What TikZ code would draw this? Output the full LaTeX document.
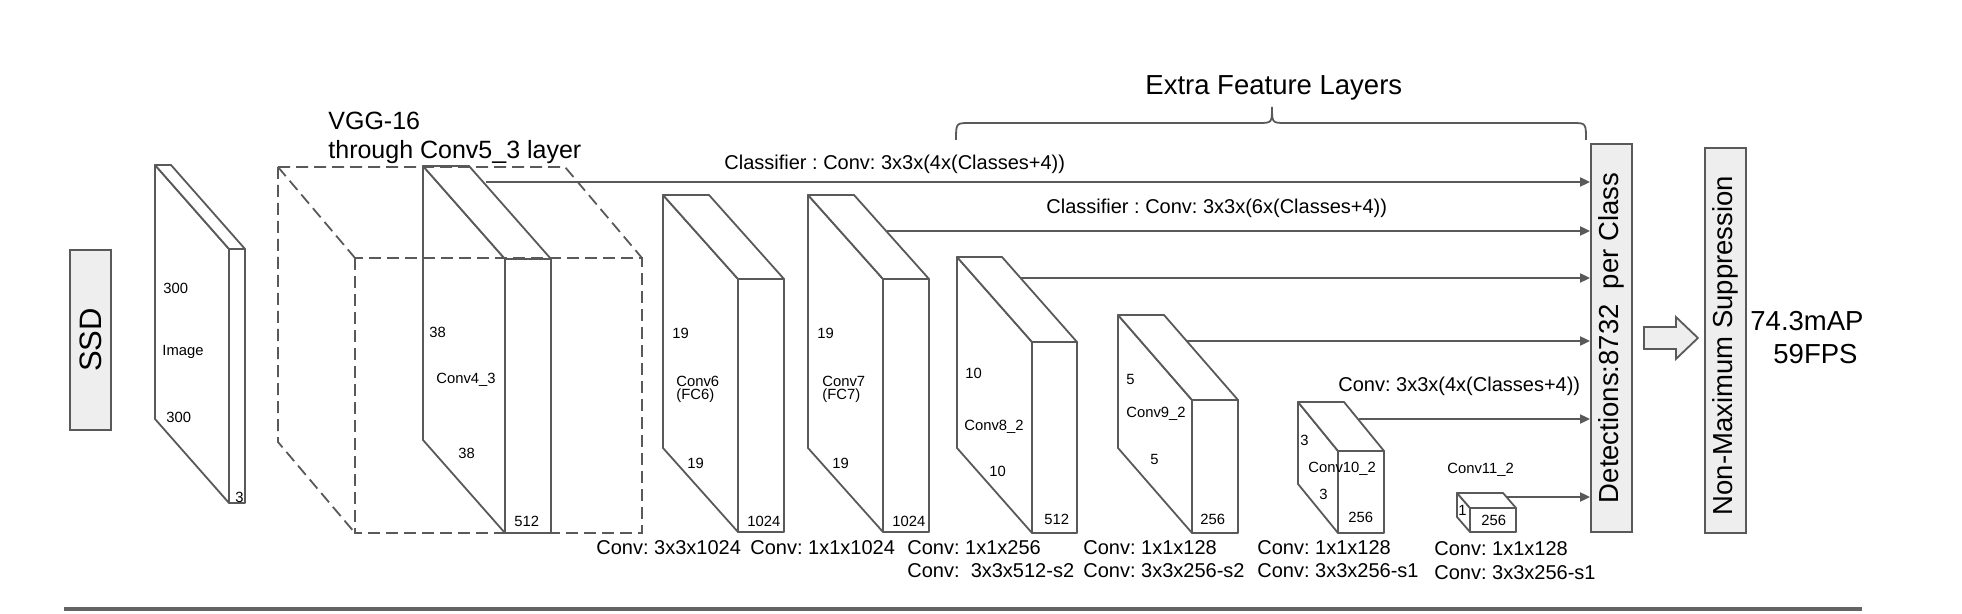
\documentclass[tikz,border=0pt]{standalone}
\usepackage{fontspec}
\setmainfont{Liberation Sans}
\usetikzlibrary{arrows.meta, calc}
\definecolor{edgegray}{HTML}{595959}
\definecolor{boxgray}{HTML}{EEEEEE}
\frenchspacing

\begin{document}
\begin{tikzpicture}[x=0.5pt, y=-0.5pt,
    slab/.style={draw=edgegray, line width=0.9pt, fill=white, line join=round},
    vgg/.style={draw=edgegray, line width=0.9pt, dash pattern=on 6pt off 3pt},
    feed/.style={draw=edgegray, line width=0.9pt, -{Triangle[length=5pt,width=4.5pt]}},
    sidebox/.style={draw=edgegray, line width=0.9pt, fill=boxgray, minimum width=20.5pt, inner sep=0},
    tiny/.style={font=\fontsize{7.4}{8}\selectfont, inner sep=0, anchor=base west},
    mid/.style={font=\fontsize{10}{12}\selectfont, inner sep=0, anchor=base west},
    big/.style={font=\fontsize{13.75}{16}\selectfont, inner sep=0}]

  \useasboundingbox (0,0) rectangle (1962,614);

  % Side boxes:
  \node[sidebox, minimum height=90pt] (ssd) at (90.5,340) {};
  \node[big, rotate=90, font=\fontsize{15.5}{18}\selectfont] (ssdtext) at (ssd) {SSD};
  \node[sidebox, minimum height=194pt] (det) at (1611.5,338) {};
  \node[big, rotate=90] (dettext) at (det) {Detections:8732\ \ per Class};
  \node[sidebox, minimum height=192.5pt] (nms) at (1725.5,340.5) {};
  \node[big, rotate=90] (nmstext) at ($(nms)+(0,5)$) {Non-Maximum Suppression};

  % Feature maps: front x/y/width/height, depth
  \foreach \fx/\fy/\fw/\fh/\dx/\dy in {229/249/16/254/74/84, 505/259/46/274/82/93,
      738/279/46/253/75/84, 883/279/46/253/75/84, 1032/342/45/191/75/85,
      1192/400/46/133/74/85, 1338/451/46/82/40/49, 1470/508/46/24/13/15} {
    \draw[slab] (\fx-\dx,\fy-\dy) -- (\fx,\fy) -- (\fx,\fy+\fh) -- (\fx-\dx,\fy+\fh-\dy) -- cycle;
    \draw[slab] (\fx-\dx,\fy-\dy) -- (\fx-\dx+\fw,\fy-\dy) -- (\fx+\fw,\fy) -- (\fx,\fy) -- cycle;
    \draw[slab] (\fx,\fy) rectangle (\fx+\fw,\fy+\fh);
  }

  % VGG-16 block:
  \draw[vgg] (278,167) -- (565,167) -- (642,258);
  \draw[vgg] (278,167) -- (355,258);
  \draw[vgg] (278,167) -- (278,442) -- (355,533);
  \draw[vgg] (355,258) rectangle (642,533);
  \node[big, anchor=base west, font=\fontsize{12.5}{14}\selectfont] (vggname) at (328,130) {VGG-16};
  \node[big, anchor=base west, font=\fontsize{12.5}{14}\selectfont] (vggdepth) at (328,159) {through Conv5\_3 layer};

  % Sizes on the maps:
  \foreach \x/\y/\txt in {163/293/300, 162/355/Image, 166/422/300, 235/502/3,
      429/337/38, 436/383/Conv4\_3, 458/458/38, 514/526/512,
      672/338/19, 676/386/Conv6, 676/399/(FC6), 687/468/19, 747/526/1024,
      817/338/19, 822/386/Conv7, 822/399/(FC7), 832/468/19, 892/526/1024,
      965/379/10, 964/430/Conv8\_2, 989/476/10, 1044/524/512,
      1126/384/5, 1126/417/Conv9\_2, 1150/464/5, 1200/524/256,
      1300/445/3, 1308/472/Conv10\_2, 1319/499/3, 1348/522/256,
      1458/515/1, 1481/525/256, 1447/473/Conv11\_2}
    \node[tiny] at (\x,\y) {\txt};

  % Layer convolutions:
  \foreach \x/\y/\txt in {596/554/Conv: 3x3x1024, 750/554/Conv: 1x1x1024,
      907/554/Conv: 1x1x256, 907/577/Conv:\ \ 3x3x512-s2,
      1083/554/Conv: 1x1x128, 1083/577/Conv: 3x3x256-s2,
      1257/554/Conv: 1x1x128, 1257/577/Conv: 3x3x256-s1,
      1434/555/Conv: 1x1x128, 1434/579/Conv: 3x3x256-s1}
    \node[mid] at (\x,\y) {\txt};

  % Classifiers:
  \coordinate (f43) at (486,182);
  \coordinate (f7) at (887,231);
  \coordinate (f8) at (1021,278);
  \coordinate (f9) at (1186,341);
  \coordinate (f10) at (1359,419);
  \coordinate (f11) at (1506,497);
  \foreach \c in {f43,f7,f8,f9,f10,f11} \draw[feed] (\c) -- (\c -| det.west);
  \node[mid] (cls4) at (724,170) {Classifier : Conv: 3x3x(4x(Classes+4))};
  \node[mid] (cls6) at (1046,214) {Classifier : Conv: 3x3x(6x(Classes+4))};
  \node[mid] (cls10) at (1338,391) {Conv: 3x3x(4x(Classes+4))};

  % Extra feature layers brace:
  \draw[edgegray, line width=0.9pt] (956,140) .. controls (956,123) .. (970,123) -- (1258,123)
    .. controls (1272,123) .. (1272,107) .. controls (1272,123) .. (1286,123) -- (1572,123)
    .. controls (1586,123) .. (1586,140);
  \node[big, anchor=base west] (extra) at (1145,95) {Extra Feature Layers};

  % NMS and result:
  \draw[draw=edgegray, fill=boxgray, line width=0.9pt] ($(det.east)+(11,-11)$) -- ++(32,0) -- ++(0,-10)
    -- ++(22,21) -- ++(-22,21) -- ++(0,-10) -- ++(-32,0) -- cycle;
  \node[big, anchor=base west] (map) at (1750,330) {74.3mAP};
  \node[big, anchor=base west] (fps) at (1773,363) {59FPS};

  \draw[color={rgb,255:red,100;green,100;blue,100}, line width=2pt] (64,609) -- (1862,609);
\end{tikzpicture}
\end{document}
